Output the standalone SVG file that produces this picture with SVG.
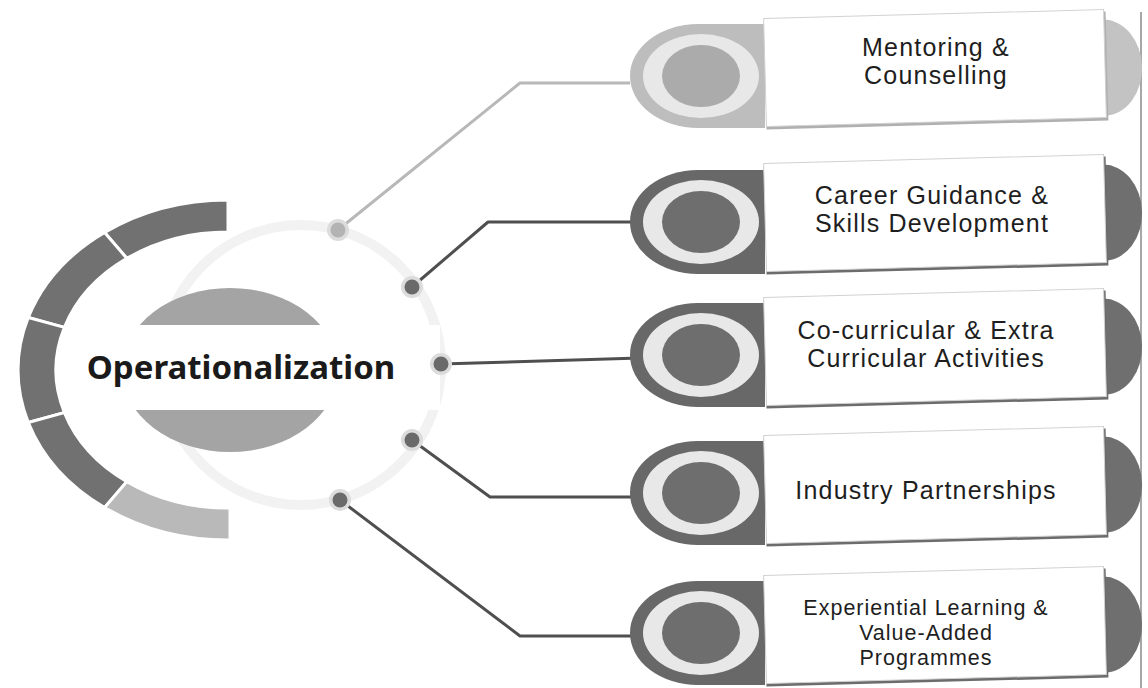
<svg xmlns="http://www.w3.org/2000/svg" width="1148" height="688" viewBox="0 0 1148 688">
  <defs>
    <style>
      .seg-dark { fill: #717171; stroke: #ffffff; stroke-width: 3; }
      .seg-light { fill: #b9b9b9; stroke: #ffffff; stroke-width: 3; }
      .conn { fill: none; stroke: #4f4f4f; stroke-width: 3; stroke-linejoin: round; }
      .conn-light { fill: none; stroke: #b8b8b8; stroke-width: 3; stroke-linejoin: round; }
      .dot-halo { fill: #dcdcdc; }
      .dot { fill: #6a6a6a; }
      .dot-lt { fill: #b3b3b3; }
      .cap { fill: #686868; }
      .cap-lt { fill: #bdbdbd; }
      .ring { fill: #e8e8e8; }
      .inner { fill: #6e6e6e; }
      .inner-lt { fill: #ababab; }
      .rcap { fill: #6f6f6f; }
      .rcap-lt { fill: #c3c3c3; }
      .card { fill: #ffffff; stroke: #d2d2d2; stroke-width: 1; }
      .shadow { fill: #6c6c6c; }
      .shadow-lt { fill: #b0b0b0; }
      .label { font-family: "Liberation Sans", Arial, sans-serif; font-size: 25px; letter-spacing: 1.2px; fill: #1e1e1e; text-anchor: middle; }
      .label-sm { font-family: "Liberation Sans", Arial, sans-serif; font-size: 21.5px; letter-spacing: 1px; fill: #1e1e1e; text-anchor: middle; }
      .title { font-family: "Noto Sans", "Open Sans", "Liberation Sans", sans-serif; font-size: 33px; font-weight: bold; fill: #1a1a1a; text-anchor: middle; }
    </style>
  </defs>
  <rect width="1148" height="688" fill="#ffffff"/>

  <!-- page edge line -->
  <line x1="1141" y1="12" x2="1141" y2="688" stroke="#8a8a8a" stroke-width="1.5"/>

  <!-- central hub -->
  <g id="hub">
    <circle cx="301" cy="365" r="140" fill="none" stroke="#f2f2f2" stroke-width="10"/>
    <path class="seg-dark" d="M228,200 A210,170 0 0 0 104.6,232.5 L126.9,258.4 A172,138 0 0 1 228,232 Z"/>
    <path class="seg-dark" d="M104.6,232.5 A210,170 0 0 0 28.3,317.5 L64.4,327.4 A172,138 0 0 1 126.9,258.4 Z"/>
    <path class="seg-dark" d="M28.3,317.5 A210,170 0 0 0 28.3,422.5 L64.4,412.6 A172,138 0 0 1 64.4,327.4 Z"/>
    <path class="seg-dark" d="M28.3,422.5 A210,170 0 0 0 104.6,507.5 L126.9,481.6 A172,138 0 0 1 64.4,412.6 Z"/>
    <path class="seg-light" d="M104.6,507.5 A210,170 0 0 0 230,540 L230,508 A172,138 0 0 1 126.9,481.6 Z"/>
    <ellipse cx="230" cy="370" rx="108" ry="82" fill="#a4a4a4"/>
    <rect x="66" y="325" width="374" height="85" fill="#ffffff"/>
    <text class="title" x="241" y="379">Operationalization</text>
  </g>

  <!-- connectors -->
  <g id="connectors">
    <polyline class="conn-light" points="338,230 520,83 630,83"/>
    <polyline class="conn" points="412,287 488,222 640,222"/>
    <polyline class="conn" points="441,364 640,358"/>
    <polyline class="conn" points="412,440 490,497 640,497"/>
    <polyline class="conn" points="340,500 520,636 640,636"/>
    <circle class="dot-halo" cx="338" cy="230" r="11"/>
    <circle class="dot-lt" cx="338" cy="230" r="7.5"/>
    <circle class="dot-halo" cx="412" cy="287" r="11"/>
    <circle class="dot" cx="412" cy="287" r="7.5"/>
    <circle class="dot-halo" cx="441" cy="364" r="11"/>
    <circle class="dot" cx="441" cy="364" r="7.5"/>
    <circle class="dot-halo" cx="412" cy="440" r="11"/>
    <circle class="dot" cx="412" cy="440" r="7.5"/>
    <circle class="dot-halo" cx="340" cy="500" r="11"/>
    <circle class="dot" cx="340" cy="500" r="7.5"/>
  </g>

  <!-- node 1 -->
  <g id="node-mentoring">
    <path class="cap-lt" d="M765,24 H698 A68,52 0 0 0 698,128 H765 Z"/>
    <ellipse class="ring" cx="701" cy="76" rx="58" ry="42"/>
    <ellipse class="inner-lt" cx="701" cy="76" rx="39" ry="31"/>
    <g transform="rotate(-1.5 936 68)">
      <path class="rcap-lt" d="M1104,24 A38,48 0 0 1 1104,120 Z"/>
      <rect class="shadow-lt" x="765" y="16" width="342" height="109"/>
      <rect class="card" x="765" y="14" width="340" height="108"/>
    </g>
    <text class="label" x="936" y="56">Mentoring &amp;</text>
    <text class="label" x="936" y="84">Counselling</text>
  </g>

  <!-- node 2 -->
  <g id="node-career">
    <path class="cap" d="M765,170 H698 A68,52 0 0 0 698,274 H765 Z"/>
    <ellipse class="ring" cx="701" cy="222" rx="58" ry="42"/>
    <ellipse class="inner" cx="701" cy="222" rx="39" ry="31"/>
    <g transform="rotate(-1.5 936 213)">
      <path class="rcap" d="M1104,169 A38,48 0 0 1 1104,265 Z"/>
      <rect class="shadow" x="765" y="161" width="342" height="109"/>
      <rect class="card" x="765" y="159" width="340" height="108"/>
    </g>
    <text class="label" x="932" y="204">Career Guidance &amp;</text>
    <text class="label" x="932" y="232">Skills Development</text>
  </g>

  <!-- node 3 -->
  <g id="node-cocurricular">
    <path class="cap" d="M765,303 H698 A68,52 0 0 0 698,407 H765 Z"/>
    <ellipse class="ring" cx="701" cy="355" rx="58" ry="42"/>
    <ellipse class="inner" cx="701" cy="355" rx="39" ry="31"/>
    <g transform="rotate(-1.5 936 347)">
      <path class="rcap" d="M1104,303 A38,48 0 0 1 1104,399 Z"/>
      <rect class="shadow" x="765" y="295" width="342" height="109"/>
      <rect class="card" x="765" y="293" width="340" height="108"/>
    </g>
    <text class="label" x="926" y="339">Co-curricular &amp; Extra</text>
    <text class="label" x="926" y="367">Curricular Activities</text>
  </g>

  <!-- node 4 -->
  <g id="node-industry">
    <path class="cap" d="M765,441 H698 A68,52 0 0 0 698,545 H765 Z"/>
    <ellipse class="ring" cx="701" cy="493" rx="58" ry="42"/>
    <ellipse class="inner" cx="701" cy="493" rx="39" ry="31"/>
    <g transform="rotate(-1.5 936 485)">
      <path class="rcap" d="M1104,441 A38,48 0 0 1 1104,537 Z"/>
      <rect class="shadow" x="765" y="433" width="342" height="109"/>
      <rect class="card" x="765" y="431" width="340" height="108"/>
    </g>
    <text class="label" x="926" y="499">Industry Partnerships</text>
  </g>

  <!-- node 5 -->
  <g id="node-experiential">
    <path class="cap" d="M765,581 H698 A68,52 0 0 0 698,685 H765 Z"/>
    <ellipse class="ring" cx="701" cy="633" rx="58" ry="42"/>
    <ellipse class="inner" cx="701" cy="633" rx="39" ry="31"/>
    <g transform="rotate(-1.5 936 625)">
      <path class="rcap" d="M1104,581 A38,48 0 0 1 1104,677 Z"/>
      <rect class="shadow" x="765" y="573" width="342" height="109"/>
      <rect class="card" x="765" y="571" width="340" height="108"/>
    </g>
    <text class="label-sm" x="926" y="615">Experiential Learning &amp;</text>
    <text class="label-sm" x="926" y="640">Value-Added</text>
    <text class="label-sm" x="926" y="665">Programmes</text>
  </g>
</svg>
